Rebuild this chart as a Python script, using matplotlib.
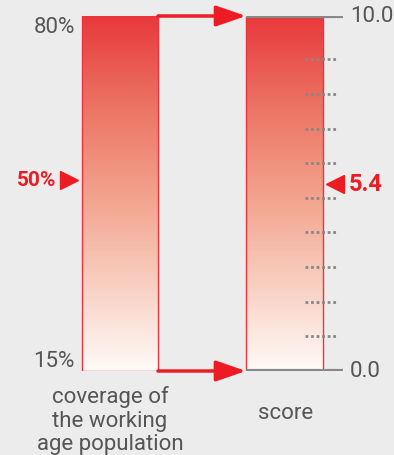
import matplotlib
matplotlib.use("Agg")
import numpy as np
import matplotlib.pyplot as plt
from matplotlib.colors import LinearSegmentedColormap

# データ
coverage_range = [15, 80]        # 左の棒の下端と上端 (%)
coverage_value = 50              # 指し示す値 (%)
coverage_labels = ["15%", "80%"]
score_range = [0.0, 10.25]       # 右の棒 (線は 0.0 と 10.0 のラベル)
score_value = 5.4
score_ticks = [1, 2, 3, 4, 5, 6, 7, 8, 9]
score_labels = ["0.0", "10.0"]
axis_titles = ["coverage of\nthe working\nage population", "score"]

RED = "#ed1c24"
GRAY = "#888888"
TEXT = "#555555"
BG = "#ececec"

plt.rcParams["font.family"] = ["Roboto", "DejaVu Sans"]

fig = plt.figure(figsize=(3.94, 4.56), dpi=100, facecolor=BG)
pos = [0, 1 - 372 / 456, 1, 355 / 456]
ax_l = fig.add_axes(pos)
ax_r = fig.add_axes(pos)
for ax in (ax_l, ax_r):
    ax.set_xlim(0, 394)
    ax.axis("off")
    ax.patch.set_alpha(0)
ax_l.set_ylim(*coverage_range)
ax_r.set_ylim(*score_range)

cmap = LinearSegmentedColormap.from_list(
    "grad",
    [(0.0, "#fffaf8"), (0.25, "#f8cec0"), (0.5, "#f2a18b"),
     (0.75, "#ec7363"), (1.0, "#e8393c")],
)
grad = np.linspace(0, 1, 256).reshape(-1, 1)

# 左の棒
lx0, lx1 = 82, 158
ax_l.imshow(grad, cmap=cmap, origin="lower", aspect="auto",
            extent=(lx0, lx1, coverage_range[0], coverage_range[1]), zorder=1)
ax_l.add_patch(plt.Rectangle((lx0, coverage_range[0]), lx1 - lx0,
                             coverage_range[1] - coverage_range[0],
                             fill=False, edgecolor="#f0333a", lw=1, zorder=2))

# 右の棒
rx0, rx1 = 246, 323
ax_r.imshow(grad, cmap=cmap, origin="lower", aspect="auto",
            extent=(rx0, rx1, score_range[0], score_range[1]), zorder=1)
ax_r.vlines([rx0, rx1], score_range[0], score_range[1], color="#f0333a",
            lw=1, zorder=2)
ax_r.hlines(score_range, rx0, 343, color=GRAY, lw=3, zorder=3)
ax_r.hlines(score_ticks, 305, 337, color=GRAY, lw=2, linestyles=(0, (1, 1)),
            zorder=3)

# 矢印
for y in coverage_range:
    ax_l.annotate("", xy=(rx0, y), xytext=(lx1, y),
                  arrowprops=dict(arrowstyle="-|>,head_length=1.3,head_width=0.45",
                                  color=RED, lw=2.5, shrinkA=0, shrinkB=0,
                                  mutation_scale=14),
                  zorder=4)

# ラベル
label_style = dict(fontsize=16, color=TEXT)
ax_l.text(75, coverage_range[1], coverage_labels[1], ha="right", va="top",
          **label_style)
ax_l.text(75, coverage_range[0], coverage_labels[0], ha="right", va="bottom",
          **label_style)
ax_r.text(350, score_range[1], score_labels[1], ha="left", va="center",
          **label_style)
ax_r.text(350, score_range[0], score_labels[0], ha="left", va="center",
          **label_style)

# 値の指示
ax_l.plot(69, coverage_value, marker=">", markersize=13, color=RED,
          clip_on=False)
ax_l.text(56, coverage_value, f"{coverage_value}%", ha="right", va="center",
          fontsize=15, color=RED, fontweight="bold")
ax_r.plot(335, score_value, marker="<", markersize=13, color=RED,
          clip_on=False)
ax_r.text(349, score_value, f"{score_value}", ha="left", va="center",
          fontsize=17, color=RED, fontweight="bold")

# 軸タイトル
ax_l.text(110, coverage_range[0] - 2.6, axis_titles[0], ha="center", va="top",
          linespacing=1.15, **label_style)
ax_r.text(286, score_range[0] - 0.9, axis_titles[1], ha="center", va="top",
          **label_style)

fig.savefig("out.png", dpi=100, facecolor=BG)
